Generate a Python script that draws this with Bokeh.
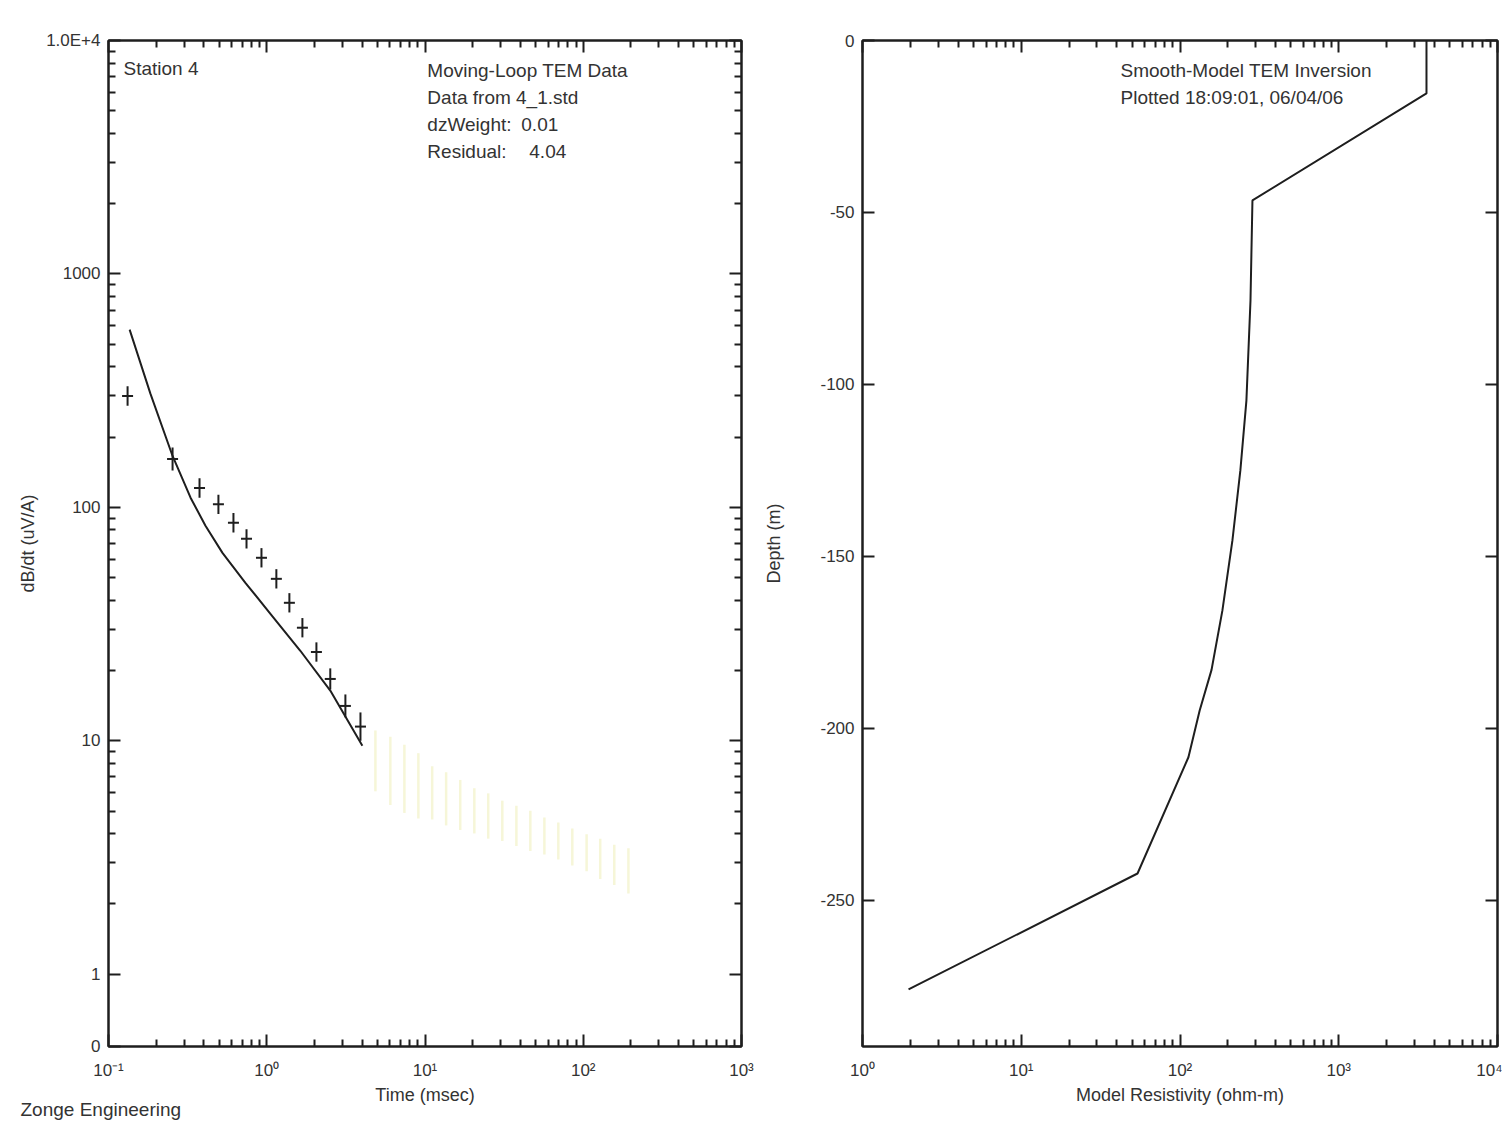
from bokeh.plotting import figure
from bokeh.layouts import row
from bokeh.models import LogAxis, LinearAxis, FixedTicker, Label, Range1d, Title
from bokeh.embed import file_html
from bokeh.resources import INLINE

# ---------------- data: left panel (Moving-Loop TEM data) ----------------
t_obs = [0.132, 0.254, 0.376, 0.495, 0.616, 0.745, 0.926, 1.15, 1.39, 1.68, 2.06, 2.52, 3.14, 3.91]
v_obs = [300, 161, 121, 103, 85.9, 73.3, 60.8, 49.4, 39.0, 30.5, 24.0, 18.4, 14.1, 11.5]
f_obs = [1.10, 1.12, 1.10, 1.10, 1.10, 1.10, 1.10, 1.10, 1.10, 1.10, 1.10, 1.11, 1.12, 1.15]

t_faint = [4.86, 6.04, 7.41, 9.08, 11.1, 13.6, 16.7, 20.5, 25.1, 30.8, 37.8, 46.3, 56.8, 69.6, 85.3, 105, 128, 157, 193]
v_faint = [8.20, 7.43, 6.87, 6.41, 5.98, 5.64, 5.31, 5.01, 4.76, 4.54, 4.32, 4.11, 3.91, 3.72, 3.51, 3.31, 3.12, 2.94, 2.77]
f_faint = [1.35, 1.40, 1.40, 1.38, 1.30, 1.30, 1.28, 1.25, 1.25, 1.22, 1.22, 1.22, 1.20, 1.20, 1.20, 1.20, 1.22, 1.22, 1.25]

t_model = [0.136, 0.184, 0.254, 0.330, 0.410, 0.525, 0.733, 1.055, 1.63, 2.52, 4.02]
v_model = [577, 307, 166, 110, 83.4, 63.8, 47.5, 35.0, 24.3, 16.4, 9.51]

x_ticks_left = [0.1, 1, 10, 100, 1000]
x_labels_left = ["10\u207b\u00b9", "10\u2070", "10\u00b9", "10\u00b2", "10\u00b3"]
y_ticks_left = [0.49, 1, 10, 100, 1000, 10000]
y_labels_left = ["0", "1", "10", "100", "1000", "1.0E+4"]

# ---------------- data: right panel (smooth-model inversion) ----------------
res_model = [3570, 3570, 286, 278, 262, 240, 214, 185, 158, 133, 113, 54, 1.95]
depth_model = [0, -15.4, -46.5, -75.6, -104.7, -125, -145.3, -165.7, -183, -194.8, -208.4, -242.2, -275.9]

x_ticks_right = [1, 10, 100, 1000, 10000]
x_labels_right = ["10\u2070", "10\u00b9", "10\u00b2", "10\u00b3", "10\u2074"]
y_ticks_right = [0, -50, -100, -150, -200, -250]
y_labels_right = ["0", "-50", "-100", "-150", "-200", "-250"]

FONT = "Liberation Sans"
TXT = "#333333"
INK = "#1e1e1e"


def minor_log(lo_dec, hi_dec):
    out = []
    for d in range(lo_dec, hi_dec):
        for k in range(2, 10):
            out.append(k * 10.0 ** d)
    return out


def style_axis(ax, ticks, minors, labels, show_labels=True):
    ax.ticker = FixedTicker(ticks=ticks, minor_ticks=minors)
    if show_labels:
        ax.major_label_overrides = {tk: lb for tk, lb in zip(ticks, labels)}
    else:
        ax.major_label_overrides = {tk: "" for tk in ticks}
    ax.axis_line_color = INK
    ax.axis_line_width = 2
    ax.major_tick_line_color = INK
    ax.minor_tick_line_color = INK
    ax.major_tick_line_width = 2
    ax.minor_tick_line_width = 2
    ax.major_tick_in = 12
    ax.major_tick_out = 0
    ax.minor_tick_in = 7
    ax.minor_tick_out = 0
    ax.major_label_text_font = FONT
    ax.major_label_text_font_size = "17px"
    ax.major_label_text_color = TXT
    ax.axis_label_text_font = FONT
    ax.axis_label_text_font_size = "18px"
    ax.axis_label_text_font_style = "normal"
    ax.axis_label_text_color = TXT


# ================= left figure =================
p1 = figure(x_axis_type="log", y_axis_type="log",
            x_range=Range1d(0.1, 1000), y_range=Range1d(0.49, 10000),
            frame_width=633, frame_height=1006,
            min_border_left=108, min_border_right=19, min_border_top=40, min_border_bottom=86,
            output_backend="svg", toolbar_location=None)
p1.grid.visible = False
p1.outline_line_color = INK
p1.outline_line_width = 2

style_axis(p1.xaxis[0], x_ticks_left, minor_log(-1, 3), x_labels_left)
p1.xaxis[0].axis_label = "Time (msec)"
p1.xaxis[0].major_label_standoff = 14
p1.xaxis[0].axis_label_standoff = 2
style_axis(p1.yaxis[0], y_ticks_left, minor_log(0, 4), y_labels_left)
p1.yaxis[0].axis_label = "dB/dt (uV/A)"
p1.yaxis[0].major_label_standoff = 8
p1.yaxis[0].axis_label_standoff = 5

ax_top1 = LogAxis()
style_axis(ax_top1, x_ticks_left, minor_log(-1, 3), x_labels_left, show_labels=False)
p1.add_layout(ax_top1, "above")
ax_right1 = LogAxis()
style_axis(ax_right1, y_ticks_left, minor_log(0, 4), y_labels_left, show_labels=False)
p1.add_layout(ax_right1, "right")

# faint yellow error bars (late times)
p1.segment(x0=t_faint, x1=t_faint,
           y0=[v / f for v, f in zip(v_faint, f_faint)],
           y1=[v * f for v, f in zip(v_faint, f_faint)],
           line_color="#f6f6d8", line_width=2.5)

# model curve
p1.line(t_model, v_model, line_color=INK, line_width=2)

# observed data crosses
p1.segment(x0=t_obs, x1=t_obs,
           y0=[v / f for v, f in zip(v_obs, f_obs)],
           y1=[v * f for v, f in zip(v_obs, f_obs)],
           line_color=INK, line_width=2)
p1.scatter(t_obs, v_obs, marker="dash", size=11, line_color=INK, line_width=2)

lab_kw = dict(text_font=FONT, text_font_size="19px", text_color=TXT, text_baseline="middle")
p1.add_layout(Label(x=0.1244, y=7586, text="Station  4", **lab_kw))
p1.add_layout(Label(x=10.35, y=7436, text="Moving-Loop  TEM  Data", **lab_kw))
p1.add_layout(Label(x=10.35, y=5700, text="Data  from  4_1.std", **lab_kw))
p1.add_layout(Label(x=10.35, y=4365, text="dzWeight:", **lab_kw))
p1.add_layout(Label(x=40.6, y=4365, text="0.01", **lab_kw))
p1.add_layout(Label(x=10.35, y=3342, text="Residual:", **lab_kw))
p1.add_layout(Label(x=45.6, y=3342, text="4.04", **lab_kw))

credit = Title(text="Zonge  Engineering", align="left", offset=-88, standoff=-24,
               text_font=FONT, text_font_size="19px", text_font_style="normal",
               text_color=TXT)
p1.add_layout(credit, "below")

# ================= right figure =================
p2 = figure(x_axis_type="log",
            x_range=Range1d(1, 10000), y_range=Range1d(-292.5, 0),
            frame_width=635, frame_height=1006,
            min_border_left=102, min_border_right=5, min_border_top=40, min_border_bottom=86,
            output_backend="svg", toolbar_location=None)
p2.grid.visible = False
p2.outline_line_color = INK
p2.outline_line_width = 2

style_axis(p2.xaxis[0], x_ticks_right, minor_log(0, 4), x_labels_right)
p2.xaxis[0].axis_label = "Model Resistivity (ohm-m)"
p2.xaxis[0].major_label_standoff = 14
p2.xaxis[0].axis_label_standoff = 2
style_axis(p2.yaxis[0], y_ticks_right, [], y_labels_right)
p2.yaxis[0].axis_label = "Depth (m)"
p2.yaxis[0].major_label_standoff = 8
p2.yaxis[0].axis_label_standoff = 33

ax_top2 = LogAxis()
style_axis(ax_top2, x_ticks_right, minor_log(0, 4), x_labels_right, show_labels=False)
p2.add_layout(ax_top2, "above")
ax_right2 = LinearAxis()
style_axis(ax_right2, y_ticks_right, [], y_labels_right, show_labels=False)
p2.add_layout(ax_right2, "right")

p2.line(res_model, depth_model, line_color=INK, line_width=2)

p2.add_layout(Label(x=42.2, y=-8.7, text="Smooth-Model  TEM  Inversion", **lab_kw))
p2.add_layout(Label(x=42.2, y=-16.6, text="Plotted  18:09:01,  06/04/06", **lab_kw))

layout = row(p1, p2, spacing=0)
open("out.html", "w").write(file_html(layout, INLINE))
